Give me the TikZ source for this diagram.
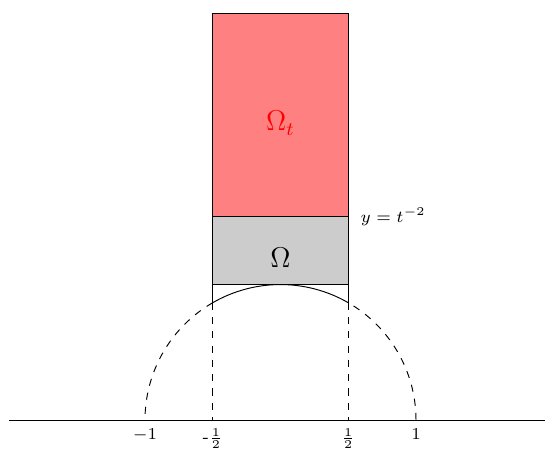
\documentclass[tikz,border=0pt]{standalone}
\usepackage{amsmath,amssymb}
\usepackage{xcolor}
\usetikzlibrary{positioning, calc}
\definecolor{cR}{RGB}{255,128,128}
\definecolor{cG}{RGB}{204,204,204}

\begin{document}
\begin{tikzpicture}[x=2cm, y=2cm, thin, tick/.style={below, font=\scriptsize, inner sep=3.5pt}]
    \useasboundingbox (-2.07,-0.229) rectangle (1.952,3.1);

    % corners of the strip
    \coordinate (A) at (-0.5,1);
    \coordinate (B) at (0.5,1);
    \coordinate (C) at (-0.5,1.5);
    \coordinate (D) at (0.5,1.5);
    \coordinate (E) at (-0.5,3);
    \coordinate (F) at (0.5,3);

    \fill[cR] (C) rectangle (F);
    \fill[cG] (A) rectangle (D);
    \draw (A) rectangle (F);
    \draw (C) -- (D);

    % real axis
    \coordinate (L) at (-2,0);
    \coordinate (R) at (1.952,0);
    \draw (L) -- (R);

    % unit circle
    \draw (60:1) arc[start angle=60, end angle=120, radius=1];
    \draw[dashed] (1,0) arc[start angle=0, end angle=60, radius=1];
    \draw[dashed] (120:1) arc[start angle=120, end angle=180, radius=1];
    \draw (A) -- (120:1);
    \draw (B) -- (60:1);
    \draw[dashed] (120:1) -- (-0.5,0);
    \draw[dashed] (60:1) -- (0.5,0);

    \node[tick] (m1) at (-1,0) {$-1$};
    \node[tick] (mh) at (-0.5,0) {-$\frac{1}{2}$};
    \node[tick] (ph) at (0.5,0) {$\frac{1}{2}$};
    \node[tick] (p1) at (1,0) {$1$};

    \node[text=red, font=\large] (Ot) at (0,2.19) {$\Omega_t$};
    \node[font=\large] (Om) at (0,1.2) {$\Omega$};
    \node[anchor=west, font=\scriptsize, inner sep=5pt] (yt) at (D) {$y = t^{-2}$};
\end{tikzpicture}
\end{document}
